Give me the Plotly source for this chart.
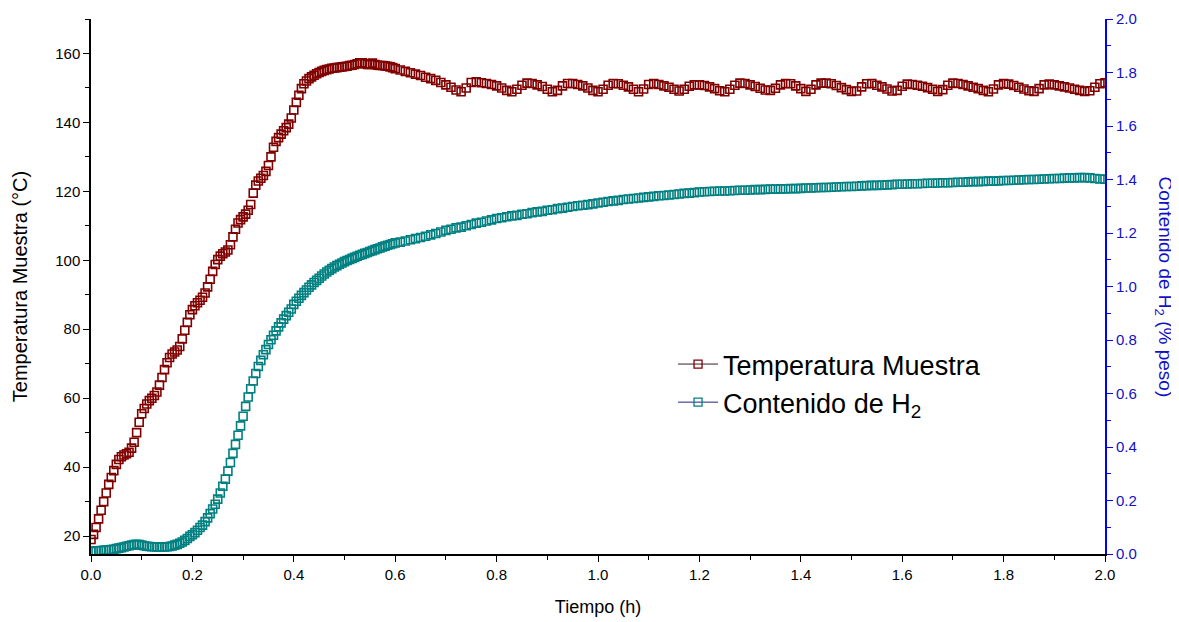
import plotly.graph_objects as go

# ---- data ----
# time grid: 0.000-0.600 h every 0.005 h, then 0.61-2.00 h every 0.01 h
time_a = [round(i * 0.005, 3) for i in range(121)]
time_b = [round(0.61 + i * 0.01, 2) for i in range(140)]
tiempo = time_a + time_b

temp_a = [
    19.0, 20.5, 22.5, 25.0, 27.5, 30.0, 32.5, 35.0, 37.0, 39.0,
    40.8, 42.2, 43.0, 43.5, 43.9, 44.3, 45.5, 47.2, 50.0, 53.0,
    55.5, 57.0, 58.3, 59.3, 60.0, 60.8, 61.8, 63.8, 66.0, 68.3,
    70.3, 71.8, 72.8, 73.4, 74.0, 75.0, 77.2, 79.7, 82.0, 84.2,
    85.7, 86.8, 87.7, 88.4, 89.3, 90.5, 92.3, 94.5, 96.8, 98.8,
    100.2, 101.2, 101.9, 102.4, 103.0, 104.5, 106.8, 109.0, 110.8, 111.8,
    112.6, 113.4, 114.5, 116.2, 119.5, 121.8, 123.0, 123.8, 124.6, 125.8,
    127.5, 130.0, 132.8, 134.5, 135.6, 136.6, 137.6, 138.5, 139.5, 141.3,
    143.6, 145.8, 147.9, 149.8, 151.2, 152.0, 152.7, 153.2, 153.7, 154.1,
    154.5, 154.8, 155.1, 155.3, 155.5, 155.7, 155.8, 155.9, 156.0, 156.1,
    156.2, 156.3, 156.5, 156.6, 156.8, 157.0, 157.3, 157.3, 157.0, 156.8,
    156.8, 157.2, 156.8, 156.6, 156.5, 156.5, 156.4, 156.3, 156.1, 155.9,
    155.6,
]
temp_b = [
    155.2, 154.8, 154.4, 154.0, 153.6, 153.1, 152.7, 152.2, 151.6, 150.9,
    150.2, 149.4, 148.9, 150.0, 151.6, 151.8, 151.5, 151.3, 151.0, 150.6,
    150.0, 149.3, 148.9, 149.6, 150.8, 151.4, 151.3, 150.9, 150.4, 149.6,
    148.9, 149.3, 150.6, 151.3, 151.3, 151.0, 150.6, 150.0, 149.3, 148.9,
    149.6, 150.8, 151.3, 151.2, 150.8, 150.3, 149.6, 148.9, 149.7, 151.0,
    151.3, 151.0, 150.6, 150.2, 149.6, 149.1, 149.6, 150.5, 150.9, 150.9,
    150.7, 150.3, 149.8, 149.2, 148.9, 149.6, 150.8, 151.4, 151.3, 150.9,
    150.4, 149.9, 149.4, 149.3, 149.9, 150.9, 151.3, 151.2, 150.6, 149.8,
    149.0, 149.6, 150.9, 151.4, 151.4, 151.2, 150.7, 150.1, 149.5, 149.0,
    149.1, 150.3, 151.2, 151.3, 150.8, 150.3, 149.7, 149.1, 149.3, 150.5,
    151.1, 151.0, 150.8, 150.5, 150.1, 149.6, 149.0, 149.5, 150.8, 151.4,
    151.3, 151.0, 150.6, 150.2, 149.8, 149.3, 148.9, 149.7, 150.9, 151.3,
    151.1, 150.7, 150.2, 149.7, 149.2, 149.0, 149.8, 150.9, 151.1, 150.9,
    150.6, 150.3, 150.0, 149.6, 149.3, 149.0, 149.2, 150.2, 151.2, 151.5,
]
temperatura = temp_a + temp_b

h2_a = [
    0.010, 0.011, 0.012, 0.012, 0.013, 0.014, 0.015, 0.016, 0.017, 0.018,
    0.020, 0.022, 0.024, 0.026, 0.029, 0.031, 0.033, 0.035, 0.036, 0.035,
    0.033, 0.031, 0.029, 0.028, 0.027, 0.027, 0.026, 0.026, 0.026, 0.026,
    0.027, 0.028, 0.030, 0.033, 0.036, 0.040, 0.045, 0.051, 0.058, 0.066,
    0.072, 0.080, 0.089, 0.099, 0.108, 0.121, 0.135, 0.151, 0.168, 0.186,
    0.205, 0.228, 0.253, 0.280, 0.310, 0.342, 0.376, 0.410, 0.444, 0.479,
    0.515, 0.552, 0.587, 0.618, 0.647, 0.675, 0.701, 0.724, 0.745, 0.764,
    0.783, 0.801, 0.818, 0.834, 0.849, 0.864, 0.878, 0.891, 0.904, 0.916,
    0.933, 0.945, 0.956, 0.967, 0.977, 0.987, 0.997, 1.006, 1.015, 1.023,
    1.031, 1.039, 1.047, 1.054, 1.061, 1.067, 1.073, 1.078, 1.083, 1.088,
    1.093, 1.097, 1.101, 1.105, 1.109, 1.113, 1.117, 1.120, 1.124, 1.127,
    1.131, 1.134, 1.138, 1.141, 1.144, 1.148, 1.151, 1.154, 1.157, 1.160,
    1.163,
]
h2_b = [
    1.166, 1.170, 1.175, 1.179, 1.183, 1.188, 1.193, 1.198, 1.204, 1.210,
    1.214, 1.219, 1.222, 1.227, 1.232, 1.237, 1.240, 1.245, 1.249, 1.254,
    1.257, 1.261, 1.264, 1.266, 1.270, 1.272, 1.276, 1.279, 1.281, 1.285,
    1.287, 1.291, 1.293, 1.296, 1.299, 1.302, 1.304, 1.306, 1.309, 1.312,
    1.315, 1.318, 1.320, 1.322, 1.325, 1.327, 1.329, 1.331, 1.333, 1.335,
    1.337, 1.339, 1.340, 1.342, 1.344, 1.346, 1.348, 1.349, 1.351, 1.353,
    1.354, 1.355, 1.356, 1.357, 1.357, 1.358, 1.359, 1.360, 1.360, 1.361,
    1.362, 1.362, 1.363, 1.364, 1.364, 1.365, 1.365, 1.366, 1.366, 1.367,
    1.368, 1.368, 1.369, 1.370, 1.370, 1.371, 1.372, 1.373, 1.374, 1.374,
    1.375, 1.376, 1.377, 1.378, 1.378, 1.379, 1.380, 1.381, 1.382, 1.382,
    1.383, 1.384, 1.384, 1.385, 1.386, 1.386, 1.387, 1.388, 1.388, 1.389,
    1.390, 1.390, 1.391, 1.392, 1.392, 1.393, 1.394, 1.394, 1.395, 1.396,
    1.396, 1.397, 1.398, 1.399, 1.400, 1.400, 1.401, 1.402, 1.403, 1.404,
    1.404, 1.405, 1.406, 1.406, 1.407, 1.407, 1.406, 1.404, 1.402, 1.401,
]
contenido_h2 = h2_a + h2_b

x_ticks = [0.0, 0.2, 0.4, 0.6, 0.8, 1.0, 1.2, 1.4, 1.6, 1.8, 2.0]
y1_ticks = [20, 40, 60, 80, 100, 120, 140, 160]
y2_ticks = [0.0, 0.2, 0.4, 0.6, 0.8, 1.0, 1.2, 1.4, 1.6, 1.8, 2.0]

RED = "#800000"
TEAL = "#008080"
BLUE = "#0000ff"
BLUE_TXT = "#1010c8"
FONT = "Liberation Sans, Arial, sans-serif"

fig = go.Figure()

fig.add_trace(go.Scatter(
    x=tiempo, y=temperatura, mode="markers", showlegend=False,
    marker=dict(symbol="square-open", size=8, color=RED, line=dict(width=1.6, color=RED)),
    xaxis="x", yaxis="y",
))
fig.add_trace(go.Scatter(
    x=tiempo, y=contenido_h2, mode="markers", showlegend=False,
    marker=dict(symbol="square-open", size=8, color=TEAL, line=dict(width=1.6, color=TEAL)),
    xaxis="x", yaxis="y2",
))
# legend entries
fig.add_trace(go.Scatter(
    x=[None], y=[None], mode="lines+markers", name="Temperatura Muestra",
    line=dict(color="#3a2020", width=1),
    marker=dict(symbol="square-open", size=8, color=RED, line=dict(width=1.3, color=RED)),
))
fig.add_trace(go.Scatter(
    x=[None], y=[None], mode="lines+markers", name="Contenido de H<sub>2</sub>",
    line=dict(color="#202080", width=1),
    marker=dict(symbol="square-open", size=8, color=TEAL, line=dict(width=1.3, color=TEAL)),
    yaxis="y2",
))

fig.update_layout(
    width=1171, height=614,
    margin=dict(l=83, r=74, t=11, b=68, autoexpand=False),
    paper_bgcolor="white", plot_bgcolor="white",
    font=dict(family=FONT, size=15, color="black"),
    xaxis=dict(
        range=[0, 2], tickvals=x_ticks, ticktext=[f"{v:.1f}" for v in x_ticks],
        ticks="outside", ticklen=6, tickwidth=1.3, tickcolor="black", automargin=False,
        minor=dict(ticks="outside", ticklen=4, tickwidth=1.2, tickcolor="black", dtick=0.1, tick0=0, showgrid=False),
        showline=True, linecolor="black", linewidth=1.5, showgrid=False, zeroline=False,
        title=dict(text="Tiempo (h)", font=dict(size=18), standoff=19),
        tickfont=dict(size=15),
    ),
    xaxis2=dict(
        range=[0, 2], overlaying="x", side="top", tickvals=x_ticks, automargin=False,
        ticks="inside", ticklen=6, tickwidth=1.3, tickcolor="black",
        minor=dict(ticks="inside", ticklen=4, tickwidth=1.2, tickcolor="black", dtick=0.1, tick0=0, showgrid=False),
        showticklabels=False, showline=True, linecolor="black", linewidth=1.5,
        showgrid=False, zeroline=False,
    ),
    yaxis=dict(
        range=[14.8, 170], tickvals=y1_ticks, automargin=False,
        ticks="outside", ticklen=6, tickwidth=1.3, tickcolor="black",
        minor=dict(ticks="outside", ticklen=4, tickwidth=1.2, tickcolor="black", dtick=10, tick0=0, showgrid=False),
        showline=True, linecolor="black", linewidth=1.5, showgrid=False, zeroline=False,
        title=dict(text="Temperatura Muestra (°C)", font=dict(size=20), standoff=22),
        tickfont=dict(size=15),
    ),
    yaxis2=dict(
        range=[0, 2], overlaying="y", side="right", tickvals=y2_ticks, automargin=False,
        ticktext=[f"{v:.1f}" for v in y2_ticks],
        ticks="outside", ticklen=6, tickwidth=1.3, tickcolor=BLUE,
        minor=dict(ticks="outside", ticklen=4, tickwidth=1.2, tickcolor=BLUE, dtick=0.1, tick0=0, showgrid=False),
        showline=True, linecolor=BLUE, linewidth=2, showgrid=False, zeroline=False,
        tickfont=dict(size=15, color=BLUE_TXT),
    ),
    legend=dict(
        x=0.574, y=0.40, xanchor="left", yanchor="top",
        bgcolor="rgba(0,0,0,0)", font=dict(size=27, color="black"),
        itemwidth=40, tracegroupgap=0,
    ),
    annotations=[dict(
        text="Contenido de H<sub>2</sub> (% peso)", textangle=90,
        xref="paper", yref="paper", x=1.0, y=0.5, xshift=59,
        xanchor="center", yanchor="middle", showarrow=False,
        font=dict(size=19, color=BLUE_TXT, family=FONT),
    )],
)

fig.write_html("out.html")
